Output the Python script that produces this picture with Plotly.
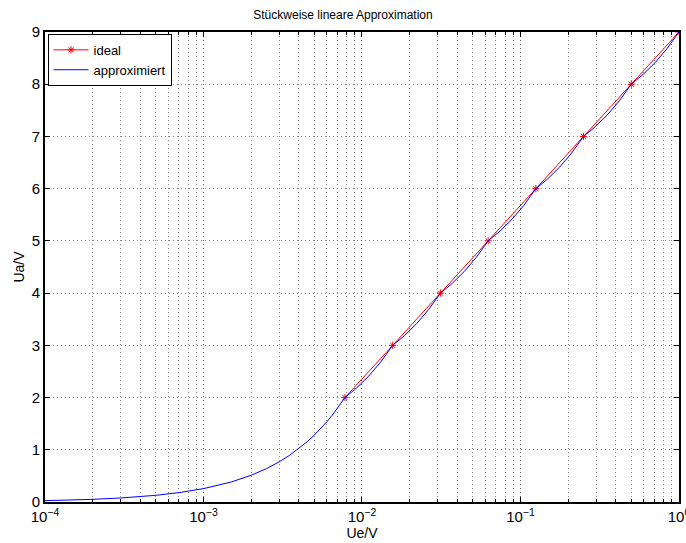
import plotly.graph_objects as go

# ideal curve (nodes)
ideal_x = [0.0078125, 0.015625, 0.03125, 0.0625, 0.125, 0.25, 0.5, 1.0]
ideal_y = [2, 3, 4, 5, 6, 7, 8, 9]

# approximated curve
approx_x = [1e-4, 1.5e-4, 2e-4, 3e-4, 4e-4, 5e-4, 7e-4, 1e-3, 1.5e-3, 2e-3, 2.5e-3, 3e-3,
            3.5e-3, 4e-3, 4.5e-3, 5e-3, 5.5e-3, 6e-3, 6.5e-3, 7e-3, 7.5e-3,
            0.0078125, 0.009291, 0.011049, 0.013139,
            0.015625, 0.018581, 0.022097, 0.026278,
            0.03125, 0.037163, 0.044194, 0.052556,
            0.0625, 0.074325, 0.088388, 0.105112,
            0.125, 0.148651, 0.176777, 0.210224,
            0.25, 0.297302, 0.353553, 0.420448,
            0.5, 0.594604, 0.707107, 0.840896,
            1.0]
approx_y = [0.0256, 0.0384, 0.0512, 0.0768, 0.1024, 0.128, 0.1792, 0.256, 0.384, 0.512, 0.64, 0.768,
            0.896, 1.024, 1.152, 1.28, 1.408, 1.536, 1.664, 1.792, 1.92,
            2.0, 2.189, 2.414, 2.682,
            3.0, 3.189, 3.414, 3.682,
            4.0, 4.189, 4.414, 4.682,
            5.0, 5.189, 5.414, 5.682,
            6.0, 6.189, 6.414, 6.682,
            7.0, 7.189, 7.414, 7.682,
            8.0, 8.189, 8.414, 8.682,
            9.0]

x_tickvals = [1e-4, 1e-3, 1e-2, 1e-1, 1]
x_ticktext = ["10<sup>−4</sup>", "10<sup>−3</sup>", "10<sup>−2</sup>", "10<sup>−1</sup>", "10<sup>0</sup>"]
y_tickvals = [0, 1, 2, 3, 4, 5, 6, 7, 8, 9]

fig = go.Figure()
fig.add_trace(go.Scatter(x=ideal_x, y=ideal_y, mode="lines+markers", name="ideal",
                         line=dict(color="red", width=1),
                         marker=dict(symbol="asterisk-open", size=6,
                                     color="red", line=dict(color="red", width=1))))
fig.add_trace(go.Scatter(x=approx_x, y=approx_y, mode="lines", name="approximiert",
                         line=dict(color="blue", width=1)))

grid = "rgba(90,90,90,0.75)"
gdash = "1px,3px"
fig.update_layout(
    width=686, height=543,
    margin=dict(l=45, r=7, t=32, b=41),
    paper_bgcolor="white", plot_bgcolor="white",
    font=dict(family="Liberation Sans, Arial, sans-serif", size=14, color="black"),
    title=dict(text="Stückweise lineare Approximation", x=0.5, xanchor="center",
               y=1 - 15 / 543, yanchor="middle", font=dict(size=12)),
    showlegend=True,
    legend=dict(x=0.004, y=0.996, xanchor="left", yanchor="top",
                bordercolor="black", borderwidth=1, bgcolor="white",
                font=dict(size=13), tracegroupgap=0, itemwidth=35),
    xaxis=dict(type="log", range=[-4, 0.0001], tickvals=x_tickvals, ticktext=x_ticktext,
               tickfont=dict(size=15), ticklabeloverflow="allow", automargin=False,
               ticks="inside", ticklen=5, tickcolor="black", showline=True,
               linecolor="black", linewidth=2, mirror="allticks",
               showgrid=True, gridcolor=grid, griddash=gdash, gridwidth=1,
               zeroline=False,
               minor=dict(dtick="D1", ticks="inside", ticklen=3, tickcolor="black",
                          showgrid=True, gridcolor=grid, griddash=gdash, gridwidth=1),
               title=dict(text="Ue/V", standoff=0, font=dict(size=14))),
    yaxis=dict(range=[0, 9], tickvals=y_tickvals, tickfont=dict(size=15), automargin=False,
               ticks="inside", ticklen=5, tickcolor="black", showline=True,
               linecolor="black", linewidth=2, mirror="allticks",
               showgrid=True, gridcolor=grid, griddash=gdash, gridwidth=1,
               zeroline=False,
               title=dict(text="Ua/V", standoff=4, font=dict(size=14))),
)

fig.write_html("out.html")
